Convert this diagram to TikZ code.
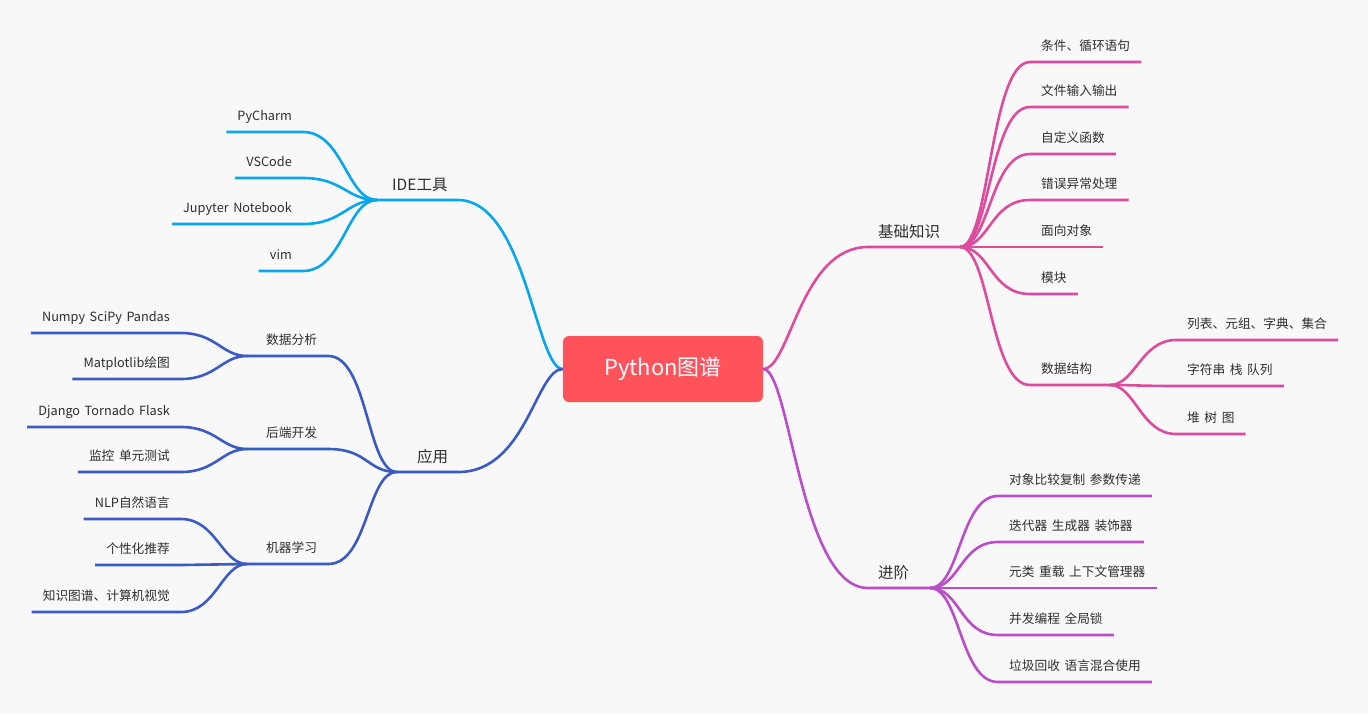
\documentclass[tikz,border=0pt]{standalone}
\usepackage{fontspec}
\setmainfont{Noto Sans CJK SC}
\usepackage{xcolor}
\usetikzlibrary{positioning,calc}

\definecolor{bgcol}{HTML}{F8F8F8}
\definecolor{rootcol}{HTML}{FF535B}
\definecolor{basiccol}{HTML}{DE4A9C}
\definecolor{advcol}{HTML}{BA4DC9}
\definecolor{idecol}{HTML}{07A6EE}
\definecolor{appcol}{HTML}{3A5BC4}
\definecolor{txtcol}{HTML}{2E2E2E}

\newcommand{\leaffont}{\fontsize{12.7}{15}\selectfont\spaceskip=0.36em\relax}

\begin{document}
\begin{tikzpicture}[
		x=1pt, y=-1pt,
		root/.style={fill=rootcol, text=white, rounded corners=6pt,
			minimum width=200pt, minimum height=66pt,
			font=\fontsize{22}{26}\selectfont},
		topic/.style={inner xsep=10pt, inner ysep=0pt, text height=12pt,
			text depth=9pt, text=txtcol, font=\fontsize{15.5}{18}\selectfont},
		leaf/.style={inner xsep=11pt, inner ysep=0pt, text height=10pt,
			text depth=11pt, text=txtcol, font=\leaffont},
		branch/.style={line width=2.6pt},
	]
	% canvas
	\fill[bgcol] (0,0) rectangle (1368,713);
	\useasboundingbox (0,0) rectangle (1368,713);

	\node[root] (py) at (663,369) {Python图谱};

	% main topics and their junctions
	\node[topic, anchor=south west] (basic) at (868,247) {基础知识};
	\node[topic, anchor=south west] (adv) at (868,588) {进阶};
	\node[topic, anchor=south west] (ide) at (382,200) {IDE工具};
	\node[topic, anchor=south west] (app) at (407,472) {应用};
	\coordinate (jbasic) at (960,247);
	\coordinate (jadv) at (930,588);
	\coordinate (jide) at (377,200);
	\coordinate (japp) at (397,472);

	\draw[branch, basiccol] (py.east) .. controls +(27,0) and +(-68,0) .. (basic.south west) -- (jbasic);
	\draw[branch, advcol] (py.east) .. controls +(27,0) and +(-68,0) .. (adv.south west) -- (jadv);
	\draw[branch, idecol] (py.west) .. controls +(-27,0) and +(68,0) .. (ide.south east) -- (jide);
	\draw[branch, appcol] (py.west) .. controls +(-27,0) and +(68,0) .. (app.south east) -- (japp);

	% basics
	\node[leaf, anchor=south west] (b1) at (1030,62) {条件、循环语句};
	\node[leaf, anchor=south west] (b2) at (1030,107) {文件输入输出};
	\node[leaf, anchor=south west] (b3) at (1030,154) {自定义函数};
	\node[leaf, anchor=south west] (b4) at (1030,200) {错误异常处理};
	\node[leaf, anchor=south west] (b5) at (1030,247) {面向对象};
	\node[leaf, anchor=south west] (b6) at (1030,294) {模块};
	\node[leaf, anchor=south west] (b7) at (1030,385) {数据结构};
	\coordinate (jds) at (1110,385);

	\draw[branch, basiccol] (jbasic) .. controls +(30,0) and +(-40,0) .. (b1.south west) -- (b1.south east);
	\draw[branch, basiccol] (jbasic) .. controls +(30,0) and +(-40,0) .. (b2.south west) -- (b2.south east);
	\draw[branch, basiccol] (jbasic) .. controls +(30,0) and +(-40,0) .. (b3.south west) -- (b3.south east);
	\draw[branch, basiccol] (jbasic) .. controls +(30,0) and +(-40,0) .. (b4.south west) -- (b4.south east);
	\draw[branch, basiccol] (jbasic) -- (b5.south west) -- (b5.south east);
	\draw[branch, basiccol] (jbasic) .. controls +(30,0) and +(-40,0) .. (b6.south west) -- (b6.south east);
	\draw[branch, basiccol] (jbasic) .. controls +(30,0) and +(-40,0) .. (b7.south west) -- (jds);

	\node[leaf, anchor=south west] (s1) at (1176,340) {列表、元组、字典、集合};
	\node[leaf, anchor=south west] (s2) at (1176,386) {字符串 栈 队列};
	\node[leaf, anchor=south west] (s3) at (1176,434) {堆 树 图};

	\draw[branch, basiccol] (jds) .. controls +(25,0) and +(-35,0) .. (s1.south west) -- (s1.south east);
	\draw[branch, basiccol] (jds) .. controls +(25,0) and +(-35,0) .. (s2.south west) -- (s2.south east);
	\draw[branch, basiccol] (jds) .. controls +(25,0) and +(-35,0) .. (s3.south west) -- (s3.south east);

	% advanced
	\node[leaf, anchor=south west] (v1) at (998,496) {对象比较复制 参数传递};
	\node[leaf, anchor=south west] (v2) at (998,542) {迭代器 生成器 装饰器};
	\node[leaf, anchor=south west] (v3) at (998,588) {元类 重载 上下文管理器};
	\node[leaf, anchor=south west] (v4) at (998,635) {并发编程 全局锁};
	\node[leaf, anchor=south west] (v5) at (998,682) {垃圾回收 语言混合使用};

	\draw[branch, advcol] (jadv) .. controls +(30,0) and +(-38,0) .. (v1.south west) -- (v1.south east);
	\draw[branch, advcol] (jadv) .. controls +(30,0) and +(-38,0) .. (v2.south west) -- (v2.south east);
	\draw[branch, advcol] (jadv) -- (v3.south west) -- (v3.south east);
	\draw[branch, advcol] (jadv) .. controls +(30,0) and +(-38,0) .. (v4.south west) -- (v4.south east);
	\draw[branch, advcol] (jadv) .. controls +(30,0) and +(-38,0) .. (v5.south west) -- (v5.south east);

	% IDE
	\node[leaf, anchor=south east] (i1) at (303,132) {PyCharm};
	\node[leaf, anchor=south east] (i2) at (303,178) {VSCode};
	\node[leaf, anchor=south east] (i3) at (303,224) {Jupyter Notebook};
	\node[leaf, anchor=south east] (i4) at (303,271) {vim};

	\draw[branch, idecol] (jide) .. controls +(-30,0) and +(40,0) .. (i1.south east) -- (i1.south west);
	\draw[branch, idecol] (jide) .. controls +(-30,0) and +(40,0) .. (i2.south east) -- (i2.south west);
	\draw[branch, idecol] (jide) .. controls +(-30,0) and +(40,0) .. (i3.south east) -- (i3.south west);
	\draw[branch, idecol] (jide) .. controls +(-30,0) and +(40,0) .. (i4.south east) -- (i4.south west);

	% applications
	\node[leaf, anchor=south west] (a1) at (255,356) {数据分析};
	\node[leaf, anchor=south west] (a2) at (255,449) {后端开发};
	\node[leaf, anchor=south west] (a3) at (255,564) {机器学习};
	\coordinate (ja1) at (247,356);
	\coordinate (ja2) at (247,449);
	\coordinate (ja3) at (247,564);

	\draw[branch, appcol] (japp) .. controls +(-30,0) and +(40,0) .. (a1.south east) -- (ja1);
	\draw[branch, appcol] (japp) .. controls +(-30,0) and +(40,0) .. (a2.south east) -- (ja2);
	\draw[branch, appcol] (japp) .. controls +(-30,0) and +(40,0) .. (a3.south east) -- (ja3);

	\node[leaf, anchor=south east] (a11) at (181,333) {Numpy SciPy Pandas};
	\node[leaf, anchor=south east] (a12) at (181,379) {Matplotlib绘图};
	\node[leaf, anchor=south east] (a21) at (181,427) {Django Tornado Flask};
	\node[leaf, anchor=south east] (a22) at (181,472) {监控 单元测试};
	\node[leaf, anchor=south east] (a31) at (181,519) {NLP自然语言};
	\node[leaf, anchor=south east] (a32) at (181,565) {个性化推荐};
	\node[leaf, anchor=south east] (a33) at (181,612) {知识图谱、计算机视觉};

	\draw[branch, appcol] (ja1) .. controls +(-25,0) and +(35,0) .. (a11.south east) -- (a11.south west);
	\draw[branch, appcol] (ja1) .. controls +(-25,0) and +(35,0) .. (a12.south east) -- (a12.south west);
	\draw[branch, appcol] (ja2) .. controls +(-25,0) and +(35,0) .. (a21.south east) -- (a21.south west);
	\draw[branch, appcol] (ja2) .. controls +(-25,0) and +(35,0) .. (a22.south east) -- (a22.south west);
	\draw[branch, appcol] (ja3) .. controls +(-25,0) and +(35,0) .. (a31.south east) -- (a31.south west);
	\draw[branch, appcol] (ja3) -- (a32.south east) -- (a32.south west);
	\draw[branch, appcol] (ja3) .. controls +(-25,0) and +(35,0) .. (a33.south east) -- (a33.south west);

\end{tikzpicture}
\end{document}
